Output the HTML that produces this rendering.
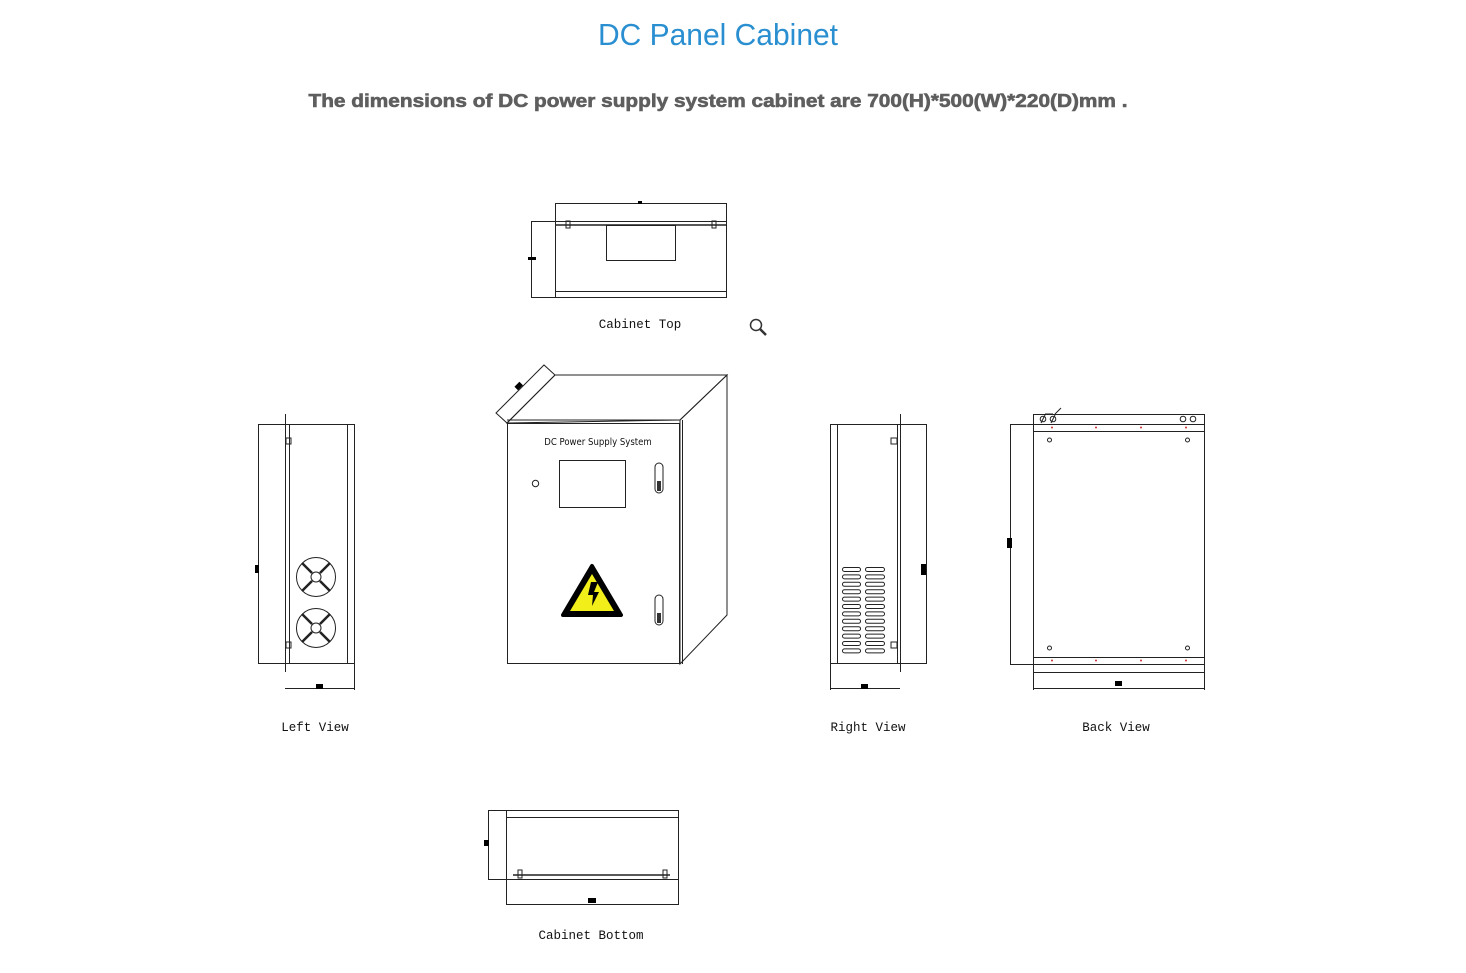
<!DOCTYPE html>
<html><head><meta charset="utf-8"><style>
html,body{margin:0;padding:0;background:#fff;}
svg{display:block;}
.l{stroke:#222;stroke-width:1;fill:none;}
.t{font-family:"Liberation Mono",monospace;font-size:12.5px;fill:#111;text-anchor:middle;}
</style></head><body>
<svg width="1466" height="973" viewBox="0 0 1466 973" xmlns="http://www.w3.org/2000/svg">
<text x="718" y="45" text-anchor="middle" font-family="'Liberation Sans',sans-serif" font-size="31" fill="#2a8fd0" textLength="240" lengthAdjust="spacingAndGlyphs">DC Panel Cabinet</text>
<text x="718" y="107" text-anchor="middle" font-family="'Liberation Sans',sans-serif" font-weight="bold" font-size="18" fill="#5e5e5e" stroke="#5e5e5e" stroke-width="0.6" textLength="819" lengthAdjust="spacingAndGlyphs">The dimensions of DC power supply system cabinet are 700(H)*500(W)*220(D)mm .</text>

<!-- Cabinet Top -->
<g class="l">
<rect x="555.5" y="203.5" width="171" height="94"/>
<line x1="531" y1="221.5" x2="726" y2="221.5"/>
<line x1="555" y1="225" x2="726" y2="225" stroke-width="1.5"/>
<rect x="606.5" y="225.5" width="69" height="35"/>
<line x1="555" y1="291.5" x2="726" y2="291.5"/>
<line x1="531.5" y1="221" x2="531.5" y2="298"/>
<line x1="531" y1="297.5" x2="555" y2="297.5"/>
<rect x="566" y="221" width="4" height="7"/><rect x="712" y="221" width="4" height="7"/>
</g>
<rect x="638" y="201" width="4" height="3" fill="#000"/>
<rect x="528" y="257" width="8" height="3" fill="#000"/>
<text class="t" x="640" y="328">Cabinet Top</text>
<g stroke="#333" fill="none" stroke-width="1.5"><circle cx="756" cy="325" r="5.5"/><line x1="760" y1="329" x2="766" y2="335" stroke-width="2.5"/></g>

<!-- Face View -->
<g class="l">
<polygon points="507,423 555,375 727,375 680,420"/>
<line x1="507" y1="420" x2="680" y2="420"/>
<rect x="507.5" y="423.5" width="172" height="240"/>
<line x1="682.5" y1="420" x2="682.5" y2="664"/>
<polygon points="680,420 727,375 727,615 680,664"/>
<polygon points="496,413 544,365 555,375 507,423"/>
<rect x="559.5" y="460.5" width="66" height="47"/>
<circle cx="535.5" cy="483.5" r="3.2"/>
<rect x="655" y="463" width="8" height="30" rx="4"/>
<rect x="655" y="595" width="8" height="30" rx="4"/>
</g>
<rect x="657" y="481" width="4" height="10" fill="#333"/>
<rect x="657" y="613" width="4" height="10" fill="#333"/>
<rect x="515" y="384" width="7" height="5" fill="#000" transform="rotate(-45 518 386)"/>
<text x="598" y="445" text-anchor="middle" font-family="'DejaVu Sans Condensed','Liberation Sans',sans-serif" font-size="9.5" fill="#111">DC Power Supply System</text>
<polygon points="592,566 621,615 563,615" fill="#000" stroke="#000" stroke-width="4" stroke-linejoin="round"/>
<polygon points="592,574 614,611 570,611" fill="#f2ee1a"/>
<polygon points="591,582 598,582 594,592 599,592 592,606 593,595 588,595" fill="#000"/>

<!-- Left View -->
<g class="l">
<rect x="258.5" y="424.5" width="96" height="239"/>
<line x1="285.5" y1="414" x2="285.5" y2="672"/>
<line x1="289.5" y1="424" x2="289.5" y2="664"/>
<line x1="347.5" y1="424" x2="347.5" y2="664"/>
<line x1="285" y1="688.5" x2="355" y2="688.5"/>
<line x1="354.5" y1="664" x2="354.5" y2="690"/>
<circle cx="316" cy="577" r="19.5"/><circle cx="316" cy="577" r="5"/>
<circle cx="316" cy="628" r="19.5"/><circle cx="316" cy="628" r="5"/>
<path d="M302 563l10 10M330 563l-10 10M302 591l10-10M330 591l-10-10M302 614l10 10M330 614l-10 10M302 642l10-10M330 642l-10-10" stroke-width="2.5"/>
<rect x="286" y="438" width="5" height="6"/><rect x="286" y="642" width="5" height="6"/>
</g>
<rect x="255" y="565" width="4" height="8" fill="#000"/>
<rect x="316" y="684" width="7" height="5" fill="#000"/>
<text class="t" x="315" y="731">Left View</text>

<!-- Right View -->
<g class="l">
<rect x="830.5" y="424.5" width="96" height="239"/>
<line x1="837.5" y1="424" x2="837.5" y2="664"/>
<line x1="897.5" y1="424" x2="897.5" y2="664"/>
<line x1="900.5" y1="414" x2="900.5" y2="672"/>
<line x1="830.5" y1="664" x2="830.5" y2="690"/>
<line x1="830" y1="688.5" x2="900" y2="688.5"/>
<rect x="891" y="438" width="6" height="6"/><rect x="891" y="642" width="6" height="6"/>
</g>
<g fill="none" stroke="#222" stroke-width="1">
<rect x="842.5" y="567.5" width="18" height="4" rx="2"/><rect x="865.5" y="567.5" width="19" height="4" rx="2"/>
<rect x="842.5" y="574.9" width="18" height="4" rx="2"/><rect x="865.5" y="574.9" width="19" height="4" rx="2"/>
<rect x="842.5" y="582.3" width="18" height="4" rx="2"/><rect x="865.5" y="582.3" width="19" height="4" rx="2"/>
<rect x="842.5" y="589.7" width="18" height="4" rx="2"/><rect x="865.5" y="589.7" width="19" height="4" rx="2"/>
<rect x="842.5" y="597.1" width="18" height="4" rx="2"/><rect x="865.5" y="597.1" width="19" height="4" rx="2"/>
<rect x="842.5" y="604.5" width="18" height="4" rx="2"/><rect x="865.5" y="604.5" width="19" height="4" rx="2"/>
<rect x="842.5" y="611.9" width="18" height="4" rx="2"/><rect x="865.5" y="611.9" width="19" height="4" rx="2"/>
<rect x="842.5" y="619.3" width="18" height="4" rx="2"/><rect x="865.5" y="619.3" width="19" height="4" rx="2"/>
<rect x="842.5" y="626.7" width="18" height="4" rx="2"/><rect x="865.5" y="626.7" width="19" height="4" rx="2"/>
<rect x="842.5" y="634.1" width="18" height="4" rx="2"/><rect x="865.5" y="634.1" width="19" height="4" rx="2"/>
<rect x="842.5" y="641.5" width="18" height="4" rx="2"/><rect x="865.5" y="641.5" width="19" height="4" rx="2"/>
<rect x="842.5" y="648.9" width="18" height="4" rx="2"/><rect x="865.5" y="648.9" width="19" height="4" rx="2"/>
</g>
<rect x="921" y="564" width="5" height="11" fill="#000"/>
<rect x="861" y="684" width="7" height="5" fill="#000"/>
<text class="t" x="868" y="731">Right View</text>

<!-- Back View -->
<g class="l">
<rect x="1033.5" y="414.5" width="171" height="258"/>
<line x1="1033" y1="424.5" x2="1204" y2="424.5"/>
<line x1="1033" y1="431.5" x2="1204" y2="431.5"/>
<line x1="1033" y1="657.5" x2="1204" y2="657.5"/>
<line x1="1033" y1="664.5" x2="1204" y2="664.5"/>
<line x1="1010.5" y1="424" x2="1010.5" y2="664"/>
<line x1="1010" y1="424.5" x2="1033" y2="424.5"/>
<line x1="1010" y1="664.5" x2="1033" y2="664.5"/>
<line x1="1033" y1="688.5" x2="1204" y2="688.5"/>
<line x1="1033.5" y1="672" x2="1033.5" y2="690"/><line x1="1204.5" y1="672" x2="1204.5" y2="690"/>
<circle cx="1049.5" cy="440" r="2"/><circle cx="1187.5" cy="440" r="2"/>
<circle cx="1049.5" cy="648" r="2"/><circle cx="1187.5" cy="648" r="2"/>
<circle cx="1183" cy="419" r="2.8"/><circle cx="1193" cy="419" r="2.8"/>
<circle cx="1043" cy="419" r="2.8"/><circle cx="1053" cy="419" r="2.8"/>
<path d="M1041 423l4-8M1051 423l4-8M1045 414h8M1055 414l6-6"/>
</g>
<g fill="#c33"><circle cx="1052" cy="427.5" r="1"/><circle cx="1096" cy="427.5" r="1"/><circle cx="1141" cy="427.5" r="1"/><circle cx="1186" cy="427.5" r="1"/><circle cx="1052" cy="660.5" r="1"/><circle cx="1096" cy="660.5" r="1"/><circle cx="1141" cy="660.5" r="1"/><circle cx="1186" cy="660.5" r="1"/></g>
<rect x="1007" y="538" width="5" height="10" fill="#000"/>
<rect x="1115" y="681" width="7" height="5" fill="#000"/>
<text class="t" x="1116" y="731">Back View</text>

<!-- Cabinet Bottom -->
<g class="l">
<rect x="506.5" y="810.5" width="172" height="69"/>
<line x1="506" y1="817.5" x2="678" y2="817.5"/>
<line x1="513" y1="875" x2="670" y2="875" stroke-width="1.5"/>
<line x1="488.5" y1="810" x2="488.5" y2="879"/>
<line x1="488" y1="810.5" x2="506" y2="810.5"/>
<line x1="488" y1="879.5" x2="506" y2="879.5"/>
<line x1="506.5" y1="879" x2="506.5" y2="905"/><line x1="678.5" y1="879" x2="678.5" y2="905"/>
<line x1="506" y1="904.5" x2="678" y2="904.5"/>
<rect x="518" y="870" width="4" height="8"/><rect x="663" y="870" width="4" height="8"/>
</g>
<rect x="484" y="840" width="5" height="6" fill="#000"/>
<rect x="588" y="898" width="8" height="5" fill="#000"/>
<text class="t" x="591" y="939">Cabinet Bottom</text>
</svg>
</body></html>
